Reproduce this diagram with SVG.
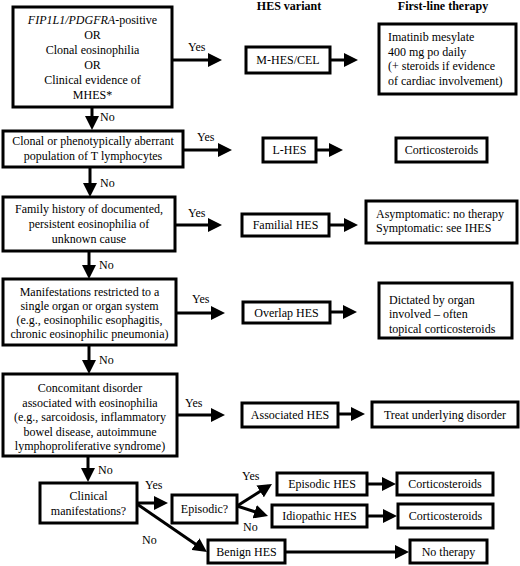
<svg xmlns="http://www.w3.org/2000/svg" width="520" height="566" viewBox="0 0 520 566">
<style>
text{font-family:'Liberation Serif','DejaVu Serif',serif;font-size:12px;fill:#000}
.c{text-anchor:middle}
.h{font-weight:bold;text-anchor:middle}
.box{fill:#fff;stroke:#000;stroke-width:3}
.ln{stroke:#000;stroke-width:3;fill:none}
</style>
<defs>
<marker id="ah" markerWidth="14" markerHeight="14" refX="10" refY="7" orient="auto" markerUnits="userSpaceOnUse">
<path d="M0,0 L14,7 L0,14 z" fill="#000"/>
</marker>
</defs>
<rect width="520" height="566" fill="#fff"/>
<g id="headers">
<text class="h" x="289" y="10">HES variant</text>
<text class="h" x="443" y="10">First-line therapy</text>
</g>
<g id="connectors">
<line class="ln" x1="172" y1="60" x2="218" y2="60" marker-end="url(#ah)"/>
<line class="ln" x1="330" y1="60" x2="354" y2="60" marker-end="url(#ah)"/>
<line class="ln" x1="92" y1="107" x2="92" y2="126" marker-end="url(#ah)"/>
<line class="ln" x1="183" y1="150" x2="228" y2="150" marker-end="url(#ah)"/>
<line class="ln" x1="316" y1="150" x2="339" y2="150" marker-end="url(#ah)"/>
<line class="ln" x1="90" y1="167" x2="90" y2="193" marker-end="url(#ah)"/>
<line class="ln" x1="175" y1="225" x2="218" y2="225" marker-end="url(#ah)"/>
<line class="ln" x1="329" y1="225" x2="354" y2="225" marker-end="url(#ah)"/>
<line class="ln" x1="89" y1="251" x2="89" y2="275" marker-end="url(#ah)"/>
<line class="ln" x1="176" y1="313" x2="221" y2="313" marker-end="url(#ah)"/>
<line class="ln" x1="330" y1="312" x2="353" y2="312" marker-end="url(#ah)"/>
<line class="ln" x1="89" y1="345" x2="89" y2="370" marker-end="url(#ah)"/>
<line class="ln" x1="177" y1="415" x2="221" y2="415" marker-end="url(#ah)"/>
<line class="ln" x1="338" y1="414" x2="361" y2="414" marker-end="url(#ah)"/>
<line class="ln" x1="88" y1="456" x2="88" y2="478" marker-end="url(#ah)"/>
<line class="ln" x1="137" y1="503" x2="164" y2="503" marker-end="url(#ah)"/>
<line class="ln" x1="137" y1="504" x2="203.7" y2="549.7" marker-end="url(#ah)"/>
<line class="ln" x1="237" y1="506" x2="268.6" y2="486.1" marker-end="url(#ah)"/>
<line class="ln" x1="237" y1="506" x2="264.2" y2="514.8" marker-end="url(#ah)"/>
<line class="ln" x1="367" y1="484" x2="392" y2="484" marker-end="url(#ah)"/>
<line class="ln" x1="367" y1="516" x2="393" y2="516" marker-end="url(#ah)"/>
<line class="ln" x1="285" y1="552" x2="405" y2="552" marker-end="url(#ah)"/>
<text x="188" y="51">Yes</text>
<text x="100" y="121">No</text>
<text x="197" y="141">Yes</text>
<text x="100" y="187">No</text>
<text x="188" y="217">Yes</text>
<text x="99" y="269">No</text>
<text x="192" y="303">Yes</text>
<text x="99" y="364">No</text>
<text x="185" y="407">Yes</text>
<text x="98" y="474">No</text>
<text x="145" y="489">Yes</text>
<text x="142" y="544">No</text>
<text x="242" y="480">Yes</text>
<text x="243" y="531">No</text>
</g>
<g id="q1">
<rect class="box" x="13" y="7" width="159" height="100"/>
<text class="c" x="92.5" y="24"><tspan font-style="italic">FIP1L1/PDGFRA</tspan>-positive</text>
<text class="c" x="92.5" y="39">OR</text>
<text class="c" x="92.5" y="54">Clonal eosinophilia</text>
<text class="c" x="92.5" y="69">OR</text>
<text class="c" x="92.5" y="84">Clinical evidence of</text>
<text class="c" x="92.5" y="99">MHES*</text>
</g>
<g id="mhes">
<rect class="box" x="246" y="47" width="84" height="26"/>
<text class="c" x="288" y="64">M-HES/CEL</text>
</g>
<g id="t1">
<rect class="box" x="379" y="24" width="137" height="70"/>
<text x="388" y="41">Imatinib mesylate</text>
<text x="388" y="55.5">400 mg po daily</text>
<text x="388" y="70">(+ steroids if evidence</text>
<text x="388" y="84.5">of cardiac involvement)</text>
</g>
<g id="q2">
<rect class="box" x="3" y="131" width="180" height="36"/>
<text class="c" x="93" y="145">Clonal or phenotypically aberrant</text>
<text class="c" x="93" y="160">population of T lymphocytes</text>
</g>
<g id="lhes">
<rect class="box" x="263" y="138" width="53" height="24"/>
<text class="c" x="289.5" y="154">L-HES</text>
</g>
<g id="t2">
<rect class="box" x="396" y="138" width="91" height="24"/>
<text class="c" x="441.5" y="154">Corticosteroids</text>
</g>
<g id="q3">
<rect class="box" x="3" y="197" width="172" height="54"/>
<text class="c" x="89" y="213">Family history of documented,</text>
<text class="c" x="89" y="228">persistent eosinophilia of</text>
<text class="c" x="89" y="243">unknown cause</text>
</g>
<g id="fhes">
<rect class="box" x="242" y="214" width="87" height="22"/>
<text class="c" x="285.5" y="229">Familial HES</text>
</g>
<g id="t3">
<rect class="box" x="366" y="201" width="151" height="42"/>
<text x="376" y="218">Asymptomatic: no therapy</text>
<text x="376" y="232">Symptomatic: see IHES</text>
</g>
<g id="q4">
<rect class="box" x="3" y="279" width="173" height="66"/>
<text class="c" x="89.5" y="296">Manifestations restricted to a</text>
<text class="c" x="89.5" y="310">single organ or organ system</text>
<text class="c" x="89.5" y="324">(e.g., eosinophilic esophagitis,</text>
<text class="c" x="89.5" y="338">chronic eosinophilic pneumonia)</text>
</g>
<g id="ohes">
<rect class="box" x="243" y="302" width="87" height="21"/>
<text class="c" x="286.5" y="317">Overlap HES</text>
</g>
<g id="t4">
<rect class="box" x="379" y="283" width="133" height="55"/>
<text x="389" y="304">Dictated by organ</text>
<text x="389" y="318">involved – often</text>
<text x="389" y="333">topical corticosteroids</text>
</g>
<g id="q5">
<rect class="box" x="3" y="374" width="174" height="82"/>
<text class="c" x="90" y="392">Concomitant disorder</text>
<text class="c" x="90" y="406.5">associated with eosinophilia</text>
<text class="c" x="90" y="421">(e.g., sarcoidosis, inflammatory</text>
<text class="c" x="90" y="435.5">bowel disease, autoimmune</text>
<text class="c" x="90" y="450">lymphoproliferative syndrome)</text>
</g>
<g id="ahes">
<rect class="box" x="242" y="403" width="96" height="24"/>
<text class="c" x="290" y="419">Associated HES</text>
</g>
<g id="t5">
<rect class="box" x="372" y="402" width="146" height="25"/>
<text class="c" x="445" y="419">Treat underlying disorder</text>
</g>
<g id="q6">
<rect class="box" x="40" y="483" width="97" height="40"/>
<text class="c" x="88.5" y="500">Clinical</text>
<text class="c" x="88.5" y="515">manifestations?</text>
</g>
<g id="q7">
<rect class="box" x="172" y="495" width="65" height="28"/>
<text class="c" x="204.5" y="513">Episodic?</text>
</g>
<g id="ehes">
<rect class="box" x="277" y="473" width="90" height="22"/>
<text class="c" x="322" y="488">Episodic HES</text>
</g>
<g id="t6">
<rect class="box" x="397" y="473" width="96" height="22"/>
<text class="c" x="445" y="488">Corticosteroids</text>
</g>
<g id="ihes">
<rect class="box" x="272" y="505" width="95" height="22"/>
<text class="c" x="319.5" y="520">Idiopathic HES</text>
</g>
<g id="t7">
<rect class="box" x="398" y="504" width="95" height="24"/>
<text class="c" x="445.5" y="520">Corticosteroids</text>
</g>
<g id="bhes">
<rect class="box" x="208" y="540" width="77" height="23"/>
<text class="c" x="246.5" y="556">Benign HES</text>
</g>
<g id="t8">
<rect class="box" x="410" y="540" width="77" height="23"/>
<text class="c" x="448.5" y="556">No therapy</text>
</g>
</svg>
